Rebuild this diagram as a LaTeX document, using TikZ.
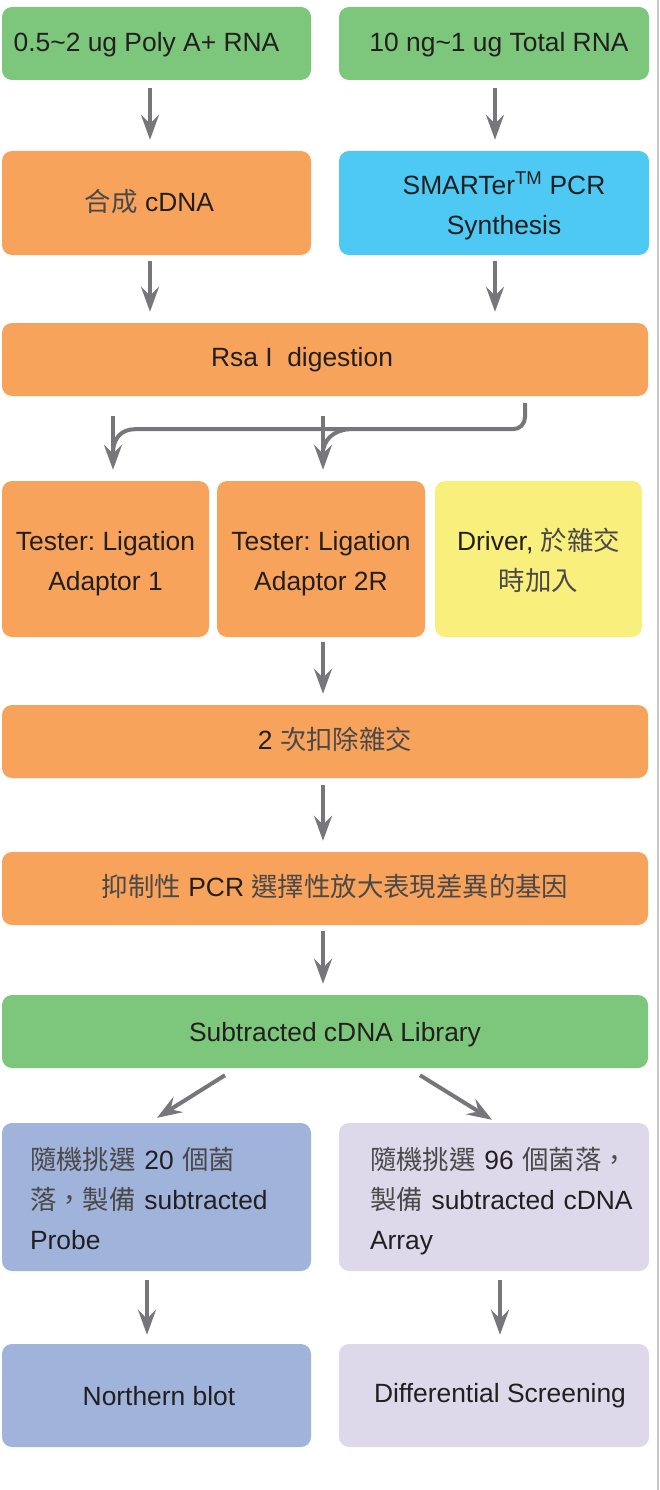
\documentclass[tikz,border=0pt]{standalone}
\usepackage{fontspec}
\setmainfont{Liberation Sans}
\newfontfamily\cjk{Noto Sans CJK TC}
\usetikzlibrary{arrows.meta,calc}
\definecolor{cgreen}{HTML}{7DC77C}
\definecolor{corange}{HTML}{F7A35C}
\definecolor{ccyan}{HTML}{4DC9F3}
\definecolor{cyellow}{HTML}{F9EF7D}
\definecolor{cblue}{HTML}{A0B3DA}
\definecolor{clav}{HTML}{DED8EB}
\definecolor{arrc}{HTML}{77767B}
\definecolor{textc}{HTML}{231F20}
\definecolor{cjkc}{HTML}{4A4849}
\definecolor{bordc}{HTML}{C8C8C8}
\newcommand\zhc[1]{{\cjk\color{cjkc}#1}}
\newcommand\sline{\rule[-6pt]{0pt}{24pt}}
\newcommand\slineb{\rule[-6pt]{0pt}{28pt}}
\newcommand\slinec{\rule[-6pt]{0pt}{31pt}}
\newcommand\ftwo{\rule{0pt}{28pt}}
\newcommand\fthree{\rule{0pt}{30pt}}
\newcommand\lastl{\rule[-6pt]{0pt}{0pt}}
\frenchspacing
\begin{document}
\begin{tikzpicture}[x=1pt,y=-1pt,
  box/.style={rounded corners=10pt, inner sep=0pt, align=center, text=textc,
    font=\fontsize{26.4}{40}\selectfont\frenchspacing},
  arr/.style={draw=arrc, line width=4pt, -{Stealth[length=25pt,width=18pt,inset=9pt]}},
  conn/.style={draw=arrc, line width=4pt},
]
\useasboundingbox (0,0) rectangle (659,1490);
\draw[bordc, line width=1.5pt] (657.8,0) -- (657.8,1490);

% row 1
\node[box, fill=cgreen, minimum width=309pt, minimum height=73pt] (a1) at (156.5,43.5)
  {\slineb 0.5\textasciitilde2 ug Poly A+ RNA\hspace*{20pt}};
\node[box, fill=cgreen, minimum width=310pt, minimum height=73pt] (a2) at (494,43.5)
  {\slineb\hspace*{10pt}10 ng\textasciitilde1 ug Total RNA};
% row 2
\node[box, fill=corange, minimum width=309pt, minimum height=104pt] (b1) at (156.5,203)
  {\sline\zhc{合成} cDNA\hspace*{14pt}};
\node[box, fill=ccyan, minimum width=310pt, minimum height=104pt] (b2) at (494,203)
  {\ftwo\hspace*{20pt}SMARTer\textsuperscript{TM} PCR\\\hspace*{20pt}Synthesis\lastl};
% row 3
\node[box, fill=corange, minimum width=646pt, minimum height=73pt] (c) at (325,359.5)
  {\sline Rsa I\ \ digestion\hspace*{46pt}};
% row 4
\node[box, fill=corange, minimum width=207pt, minimum height=156pt] (d1) at (105.5,559)
  {\ftwo Tester: Ligation\\Adaptor 1\lastl};
\node[box, fill=corange, minimum width=208pt, minimum height=156pt] (d2) at (321,559)
  {\ftwo Tester: Ligation\\Adaptor 2R\lastl};
\node[box, fill=cyellow, minimum width=207pt, minimum height=156pt] (d3) at (538.5,559)
  {\ftwo Driver, \zhc{於雜交}\\\zhc{時加入}\lastl};
% row 5-7
\node[box, fill=corange, minimum width=646pt, minimum height=73pt] (e) at (325,741.5)
  {\sline\hspace*{20pt}2 \zhc{次扣除雜交}};
\node[box, fill=corange, minimum width=646pt, minimum height=73pt] (f) at (325,888.5)
  {\sline\hspace*{20pt}\zhc{抑制性} PCR \zhc{選擇性放大表現差異的基因}};
\node[box, fill=cgreen, minimum width=646pt, minimum height=73pt] (g) at (325,1031.5)
  {\slinec\hspace*{20pt}Subtracted cDNA Library};
% row 8
\node[box, fill=cblue, minimum width=309pt, minimum height=148pt, text width=253pt, align=left] (h1) at (156.5,1197)
  {\mbox{\fthree\zhc{隨機挑選} 20 \zhc{個菌}}\\\mbox{\zhc{落，製備} subtracted}\\Probe\lastl};
\node[box, fill=clav, minimum width=310pt, minimum height=148pt, text width=248pt, align=left] (h2) at (494,1197)
  {\mbox{\fthree\zhc{隨機挑選} 96 \zhc{個菌落，}}\\\mbox{\zhc{製備} subtracted cDNA}\\Array\lastl};
% row 9
\node[box, fill=cblue, minimum width=309pt, minimum height=103pt] (i1) at (156.5,1395.5)
  {\slinec\hspace*{5pt}Northern blot};
\node[box, fill=clav, minimum width=310pt, minimum height=103pt] (i2) at (494,1395.5)
  {\sline\hspace*{12pt}Differential Screening};

% arrows
\draw[arr] ($(a1.south)+(-6.5,8)$) -- ($(b1.north)+(-6.5,-11)$);
\draw[arr] ($(a2.south)+(1,8)$) -- ($(b2.north)+(1,-11)$);
\draw[arr] ($(b1.south)+(-6.5,6)$) -- ($(b1.south |- c.north)+(-6.5,-11)$);
\draw[arr] ($(b2.south)+(1,6)$) -- ($(b2.south |- c.north)+(1,-11)$);

\coordinate (cout) at ($(c.south)+(200,7)$);
\coordinate (hl) at ($(c.south)+(-190,33)$);
\coordinate (m1) at ($(d1.north)+(7.5,-28)$);
\coordinate (hm) at ($(c.south)+(24,33)$);
\coordinate (m2) at ($(d2.north)+(2,-28)$);
\draw[conn, rounded corners=12pt] (cout) |- (hl);
\draw[conn] (hl) .. controls ($(hl)+(-14,0)$) and ($(m1)+(0,-14)$) .. (m1);
\draw[conn] (hm) .. controls ($(hm)+(-16,1)$) and ($(m2)+(0,-12)$) .. (m2);
\draw[arr] ($(d1.north |- c.south)+(7.5,20)$) -- ($(d1.north)+(7.5,-11)$);
\draw[arr] ($(d2.north |- c.south)+(2,20)$) -- ($(d2.north)+(2,-11)$);

\draw[arr] ($(d2.south)+(2,5)$) -- ($(d2.south |- e.north)+(2,-11)$);
\draw[arr] ($(e.south)+(-2,7)$) -- ($(f.north)+(-2,-11)$);
\draw[arr] ($(f.south)+(-2,6)$) -- ($(g.north)+(-2,-11)$);
\draw[arr] ($(g.south)+(-100,7)$) -- ($(h1.north)+(0.5,-5)$);
\draw[arr] ($(g.south)+(95,7)$) -- ($(h2.north)+(-2,-3)$);
\draw[arr] ($(h1.south)+(-9.5,9)$) -- ($(i1.north)+(-9.5,-9)$);
\draw[arr] ($(h2.south)+(6,9)$) -- ($(i2.north)+(6,-9)$);
\end{tikzpicture}
\end{document}
